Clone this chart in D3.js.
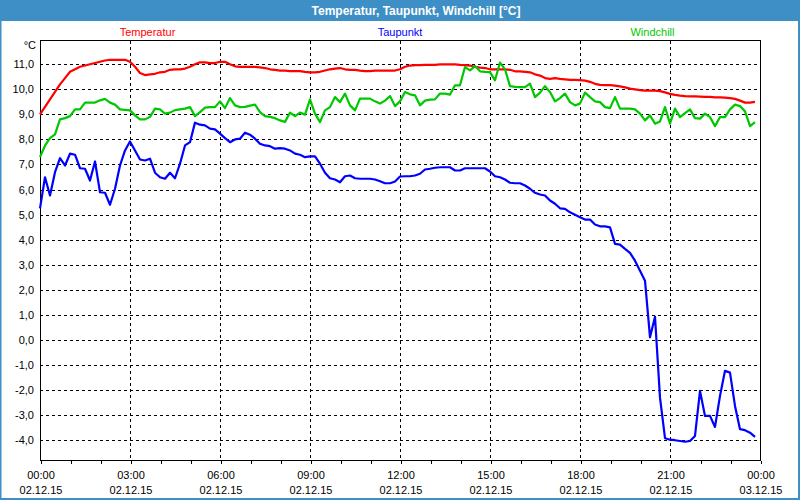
<!DOCTYPE html>
<html><head><meta charset="utf-8">
<script src="https://cdn.jsdelivr.net/npm/d3@7"></script>
<style>
body{margin:0;background:#fff}
svg{display:block}
text{font-family:"Liberation Sans",Arial,sans-serif;font-size:11px}
</style>
</head><body><svg id="c" width="800" height="500"></svg>
<script>
const title = "Temperatur, Taupunkt, Windchill [°C]";
const seriesNames = ["Temperatur", "Taupunkt", "Windchill"];
const seriesColors = ["#ff0000", "#0000ff", "#00c800"];
const unitLabel = "°C";
const yTicks = [11, 10, 9, 8, 7, 6, 5, 4, 3, 2, 1, 0, -1, -2, -3, -4];
const xTickHours = [0, 3, 6, 9, 12, 15, 18, 21, 24];
const xTimeLabels = ["00:00", "03:00", "06:00", "09:00", "12:00", "15:00", "18:00", "21:00", "00:00"];
const xDateLabels = ["02.12.15", "02.12.15", "02.12.15", "02.12.15", "02.12.15", "02.12.15", "02.12.15", "02.12.15", "03.12.15"];
const sampleMinutes = 10;

const temperatur = [
9.0,9.3,9.6,9.9,10.2,10.45,10.7,10.8,10.9,10.95,
11.0,11.05,11.1,11.15,11.18,11.18,11.18,11.18,11.1,10.9,
10.65,10.57,10.6,10.62,10.68,10.7,10.78,10.8,10.8,10.83,
10.9,11.0,11.08,11.08,11.05,11.05,11.1,11.1,11.0,10.92,
10.9,10.9,10.9,10.9,10.88,10.85,10.8,10.78,10.75,10.75,
10.73,10.73,10.73,10.7,10.68,10.68,10.7,10.75,10.8,10.83,
10.85,10.8,10.78,10.78,10.75,10.73,10.73,10.75,10.75,10.75,
10.75,10.75,10.8,10.9,10.95,10.97,10.97,10.98,10.98,10.98,
11.0,11.0,11.0,11.0,10.98,10.97,10.95,10.9,10.87,10.85,
10.8,10.8,10.8,10.8,10.78,10.72,10.72,10.7,10.68,10.6,
10.55,10.45,10.42,10.45,10.42,10.4,10.38,10.38,10.37,10.35,
10.3,10.22,10.18,10.17,10.17,10.15,10.12,10.08,10.03,10.0,
9.97,9.95,9.95,9.95,9.93,9.88,9.82,9.78,9.75,9.73,
9.72,9.72,9.71,9.7,9.7,9.68,9.68,9.67,9.65,9.62,
9.55,9.47,9.47,9.5
];
const taupunkt = [
5.25,6.49,5.76,6.69,7.25,6.96,7.43,7.39,6.85,6.83,
6.36,7.12,5.89,5.87,5.39,6.03,6.96,7.56,7.92,7.56,
7.2,7.16,7.23,6.67,6.49,6.43,6.67,6.45,7.03,7.76,
7.89,8.67,8.59,8.56,8.43,8.4,8.23,8.05,7.89,8.0,
8.03,8.27,8.19,8.03,7.83,7.76,7.73,7.63,7.65,7.63,
7.56,7.43,7.39,7.29,7.32,7.32,7.03,6.67,6.45,6.4,
6.29,6.53,6.56,6.45,6.43,6.43,6.43,6.4,6.33,6.25,
6.25,6.32,6.52,6.53,6.53,6.56,6.63,6.8,6.83,6.87,
6.89,6.89,6.89,6.76,6.76,6.85,6.85,6.85,6.85,6.85,
6.72,6.53,6.49,6.4,6.27,6.25,6.25,6.16,6.03,5.87,
5.8,5.76,5.56,5.43,5.25,5.23,5.09,4.99,4.89,4.8,
4.8,4.6,4.53,4.53,4.49,3.83,3.8,3.63,3.47,3.16,
2.76,2.36,0.1,0.92,-2.31,-3.93,-3.99,-4.01,-4.04,-4.07,
-4.04,-3.84,-2.04,-3.04,-3.04,-3.48,-2.24,-1.24,-1.31,-2.64,
-3.57,-3.61,-3.71,-3.88
];
const windchill = [
7.3,7.75,8.05,8.2,8.8,8.85,8.93,9.2,9.2,9.47,
9.47,9.47,9.56,9.62,9.47,9.39,9.2,9.18,9.16,8.96,
8.8,8.8,8.9,9.23,9.2,9.03,9.07,9.17,9.2,9.23,
9.29,8.93,9.09,9.27,9.29,9.29,9.52,9.25,9.65,9.36,
9.29,9.3,9.35,9.39,9.09,8.93,8.9,8.85,8.76,8.7,
9.07,8.93,9.07,8.99,9.6,9.03,8.69,9.16,9.29,9.69,
9.49,9.83,9.36,9.16,9.63,9.63,9.63,9.52,9.43,9.55,
9.73,9.33,9.52,9.89,9.8,9.76,9.36,9.55,9.59,9.6,
9.83,9.83,9.79,10.16,10.16,10.89,10.76,10.93,10.72,10.7,
10.69,10.36,11.07,10.8,10.13,10.1,10.09,10.09,10.23,9.69,
9.87,10.13,9.89,9.52,9.65,9.83,9.49,9.36,9.43,9.87,
9.69,9.52,9.49,9.29,9.25,9.69,9.23,9.23,9.23,9.2,
9.03,8.76,8.96,8.63,8.72,9.29,8.63,9.23,8.89,9.05,
9.2,8.85,8.83,9.03,8.89,8.53,8.89,8.89,9.2,9.39,
9.33,9.12,8.53,8.69
];

const svg = d3.select("#c");
const W = 800, H = 500;
const frameColor = "#3d8fc6";
const fmt = v => v.toFixed(1).replace(".", ",");

// frame and title bar
svg.append("rect").attr("x", 0).attr("y", 0).attr("width", W).attr("height", H).attr("fill", "#fff");
svg.append("rect").attr("x", 0).attr("y", 0).attr("width", W).attr("height", 21).attr("fill", frameColor);
svg.append("rect").attr("x", 0.5).attr("y", 0.5).attr("width", W - 1.5).attr("height", H - 1.5)
  .attr("fill", "none").attr("stroke", frameColor).attr("stroke-width", 2);
svg.append("text").attr("x", 416).attr("y", 15).attr("text-anchor", "middle")
  .attr("fill", "#fff").attr("font-weight", "bold").style("font-size", "12px").text(title);

const x = d3.scaleLinear().domain([0, 24]).range([40, 760]);
const y = d3.scaleLinear().domain([-4.82, 11.95]).range([460.5, 40.5]);

const g = svg.append("g");

// horizontal gridlines
g.selectAll("line.hg").data(yTicks).join("line").attr("class", "hg")
  .attr("x1", x(0)).attr("x2", x(24))
  .attr("y1", d => Math.round(y(d)) + 0.5).attr("y2", d => Math.round(y(d)) + 0.5)
  .attr("stroke", "#000").attr("stroke-dasharray", "3,3").attr("shape-rendering", "crispEdges");
// vertical gridlines
g.selectAll("line.vg").data(xTickHours.filter(h => h > 0 && h < 24)).join("line").attr("class", "vg")
  .attr("x1", d => Math.round(x(d)) + 0.5).attr("x2", d => Math.round(x(d)) + 0.5)
  .attr("y1", 40.5).attr("y2", 460.5)
  .attr("stroke", "#000").attr("stroke-dasharray", "3,3").attr("shape-rendering", "crispEdges");

// frame of plot
g.append("rect").attr("x", 40.5).attr("y", 40.5).attr("width", 720).attr("height", 420)
  .attr("fill", "none").attr("stroke", "#000").attr("shape-rendering", "crispEdges");

// y labels
g.selectAll("text.yl").data(yTicks).join("text").attr("class", "yl")
  .attr("x", 34).attr("y", d => y(d) + 4).attr("text-anchor", "end").attr("fill", "#000")
  .text(d => fmt(d));
g.append("text").attr("x", 36).attr("y", 49).attr("text-anchor", "end").text(unitLabel);

// x axis ticks
const xAxis = d3.axisBottom(x).tickValues(d3.range(0, 25, 1)).tickSize(3).tickFormat("");
const ax = svg.append("g").attr("transform", "translate(0.5,460.5)").call(xAxis);
ax.select(".domain").remove();
ax.selectAll("line").attr("stroke", "#000").attr("shape-rendering", "crispEdges");

g.selectAll("text.xt").data(xTickHours).join("text").attr("class", "xt")
  .attr("x", d => x(d) + 1).attr("y", 479).attr("text-anchor", "middle")
  .text((d, i) => xTimeLabels[i]);
g.selectAll("text.xd").data(xTickHours).join("text").attr("class", "xd")
  .attr("x", d => x(d) + 1).attr("y", 494).attr("text-anchor", "middle")
  .text((d, i) => xDateLabels[i]);

// legend
const lx = d3.scalePoint().domain(seriesNames).range([147.5, 652.5]);
svg.selectAll("text.lg").data(seriesNames).join("text").attr("class", "lg")
  .attr("x", d => lx(d)).attr("y", 36).attr("text-anchor", "middle")
  .attr("fill", (d, i) => seriesColors[i]).text(d => d);

// lines
const line = d3.line().x((d, i) => x(i * sampleMinutes / 60)).y(d => y(d));
const seriesData = [temperatur, taupunkt, windchill];
[0, 1, 2].forEach(k => {
  svg.append("path").datum(seriesData[k]).attr("d", line)
    .attr("fill", "none").attr("stroke", seriesColors[k]).attr("stroke-width", 2.2)
    .attr("stroke-linejoin", "round");
});
</script>
</body></html>
